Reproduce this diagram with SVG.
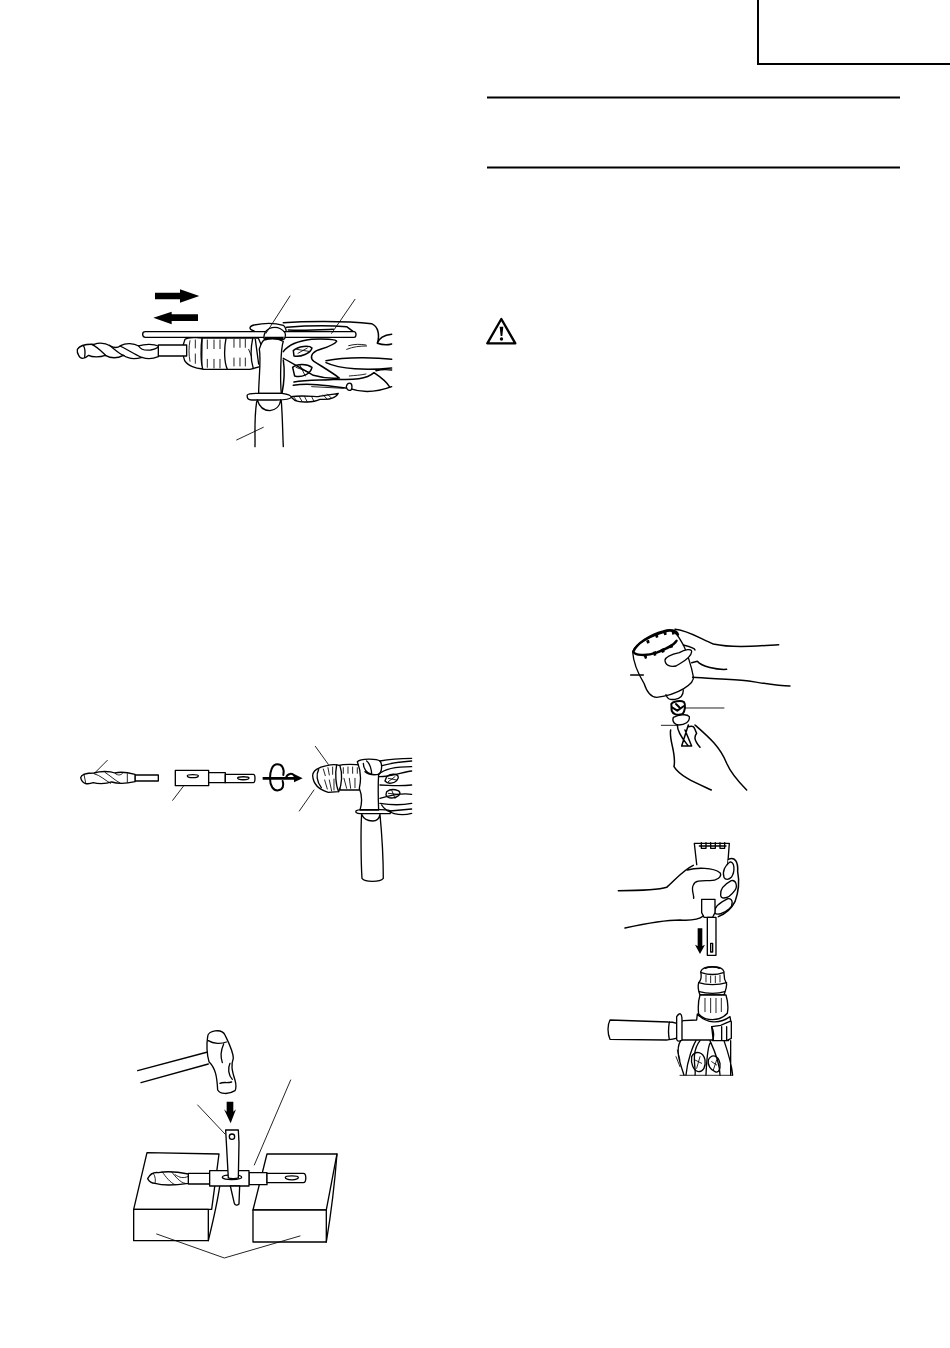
<svg xmlns="http://www.w3.org/2000/svg" width="950" height="1348" viewBox="0 0 950 1348">
<style>
.l{fill:none;stroke:#000;stroke-width:4;stroke-linecap:round;stroke-linejoin:round}
.t{fill:none;stroke:#000;stroke-width:2.600;stroke-linecap:round;stroke-linejoin:round}
.h{fill:none;stroke:#000;stroke-width:4.500;stroke-linecap:round;stroke-linejoin:round}
.w{fill:#fff;stroke:#000;stroke-width:4;stroke-linecap:round;stroke-linejoin:round}
.k{fill:#000;stroke:none}
.r{fill:none;stroke:#000;stroke-width:2}
</style>
<g id="page-frame">
<path class="r" d="M758 0V64H950"/>
<path class="r" d="M487 97.500H900M487 167.500H900"/>
</g>
<g id="warning-icon" transform="translate(480 310) scale(.3333)">
<path d="M64 27L22 100H106Z" fill="#fff" stroke="#000" stroke-width="7" stroke-linejoin="round"/>
<path class="k" d="M59 50H70L67 78H62Z"/><circle class="k" cx="64.500" cy="87" r="5"/>
</g>
<g id="fig-depth-gauge" transform="translate(70 280) scale(.3333)">
<path class="k" d="M255 38H330V28L388 48L330 68V58H255Z"/>
<path class="k" d="M250 113L305 95V103H384V123H305V133Z"/>
<path class="w" d="M396 174H565L580 210L570 260L540 268H400L395 266Z"/>
<path class="w" d="M345 178C355 172 385 172 396 174C392 200 392 245 398 266C380 268 352 256 344 242C337 225 337 195 345 178Z"/>
<path class="l" d="M468 176C462 205 462 245 472 268M548 176C542 205 542 240 550 266M556 178L566 252"/>
<path class="t" d="M360 182C356 200 356 225 360 244M376 180V204M376 222V250M412 180V206M432 180V206M450 180V206M412 238V262M432 238V264M450 238V264M492 178V202M510 178V202M526 178V202M492 234V258M510 234V258M526 234V258M536 208L544 228"/>
<path class="w" d="M265 195H350V228H265Z"/>
<path class="w" d="M22 208C30 195 45 192 72 193C88 187 108 190 122 198C132 204 140 206 152 197C168 188 192 190 206 198C225 191 252 192 265 198V230C250 236 232 238 216 232C196 238 174 236 160 226C145 234 124 236 106 226C90 232 66 232 56 226C44 238 30 238 26 226C22 220 21 214 22 208Z"/>
<path class="l" d="M40 197C46 205 46 218 44 232M66 194C84 202 98 218 108 227M118 196C132 206 148 222 162 227M150 198C166 205 192 222 214 232M206 198C212 208 226 212 242 210C254 208 262 204 265 200"/>
<path class="w" d="M550 152C535 148 538 138 552 135C585 128 620 130 640 136C652 146 652 172 640 178H590Z"/>
<path class="h" d="M640 128C700 124 820 122 905 131C925 140 930 165 922 190C940 196 952 196 965 192M922 190C928 172 945 165 965 163M650 142C700 138 770 136 830 140L850 155M655 150C700 152 740 150 790 148"/>
<path class="w" d="M218 163C218 158 222 155 226 155H852C860 155 860 172 852 172H226C222 172 218 168 218 163Z"/>
<path class="w" d="M586 156C600 138 628 136 645 158C650 170 642 178 640 178H584C580 172 582 164 586 156Z"/>
<path class="k" d="M584 170H642L638 180H584Z"/>
<path class="w" d="M568 207C572 195 576 185 582 180C600 176 625 176 640 184C632 205 630 300 634 340H566C566 300 574 240 568 207Z"/>
<path class="h" d="M640 215C655 195 690 182 725 178C760 176 800 178 800 184C790 198 755 206 740 212C722 222 720 235 732 244C760 262 790 280 808 294C780 296 750 292 730 286C700 270 670 250 640 235"/>
<path class="h" d="M670 212C685 198 718 195 726 204C722 220 692 232 672 228ZM668 262C682 250 712 252 726 262C722 282 696 294 674 288Z"/>
<path class="h" d="M768 242C830 230 920 232 965 238M768 248C810 268 890 272 965 264M918 272C935 268 950 268 965 270"/>
<path class="h" d="M672 306C715 298 760 302 800 298C850 300 890 298 912 278C930 290 950 305 960 322M670 316C720 308 780 318 840 326C880 340 925 335 965 320M640 240C646 280 640 320 636 340"/>
<path class="t" d="M680 208L716 214M684 220L712 204M678 262L716 276M690 256L706 288M836 197C855 192 870 192 888 195M830 208C850 200 870 198 890 198M838 288C855 286 872 286 888 282M725 320L820 325"/>
<path class="w" d="M829 320C832 306 846 306 846 320C846 335 832 335 829 320Z"/>
<path class="w" d="M662 350C700 345 730 350 745 350C760 345 780 345 805 340C800 352 780 360 750 358C730 368 690 368 676 362Z"/>
<path class="t" d="M672 352L680 362M688 350L696 364M704 350L712 366M725 350L732 364M760 345L772 358M772 342L785 355"/>
<path class="w" d="M532 345C535 340 560 340 566 340H636C650 342 664 346 664 352C660 360 640 360 620 360H545C535 360 530 355 532 345Z"/>
<path class="l" d="M562 360C568 380 580 392 600 392C615 390 630 380 632 360M560 365C552 420 556 460 555 500M634 362C638 420 638 460 640 500"/>
<path class="t" d="M588 160L660 48M785 160L855 58M500 480L580 442"/>
</g>
<g id="fig-bit-adapter" transform="translate(70 735) scale(.3333)">
<path class="w" d="M195 120H265V138H195Z"/>
<path class="w" d="M32 128C34 118 45 114 72 114C90 108 120 108 135 114C150 110 172 112 195 118V140C170 146 140 146 125 141C105 148 80 146 70 143C50 150 36 146 32 128Z"/>
<path class="t" d="M42 118L47 144M72 116C90 120 108 138 122 145M105 112C120 122 138 138 150 144M135 115C145 124 155 120 160 112M172 116V142"/>
<path class="t" d="M112 76L76 112M340 154L308 196"/>
<path class="w" d="M316 106H416V152H316Z"/>
<path class="w" d="M416 113H466V143H416Z"/>
<path class="w" d="M466 118H550C553 118 555 121 555 130C555 140 553 143 550 143H466Z"/>
<path class="l" d="M352 122C352 118 385 118 385 122C385 130 352 130 352 122ZM503 129C503 124 537 124 537 129C537 136 503 136 503 129Z"/>
<path class="k" d="M578 126H672V117L698 130L672 142V134H578Z"/>
<path class="l" style="stroke-width:6" d="M640 120C644 100 636 88 622 88C606 88 600 110 600 130C600 152 610 168 625 166C640 164 642 150 638 138M648 128C652 114 668 114 672 122"/>
<path class="t" d="M736 34L775 88M732 165L688 228"/>
<path class="w" d="M806 92C820 86 860 88 872 90L880 130L868 165H810Z"/>
<path class="t" d="M820 98V115M834 96V115M848 96V115M862 98V115M822 130L830 160M838 130L842 160M855 130V158"/>
<path class="w" d="M728 122C728 108 745 96 770 92C785 88 800 88 810 92C818 115 816 150 806 170L775 172C750 165 730 150 728 122Z"/>
<path class="l" d="M746 104C738 118 740 140 754 158M800 90C795 115 797 150 806 170"/>
<path class="t" d="M760 102L766 122M774 98L778 120M788 96V118M764 135L772 162M778 135L785 168M792 132V165"/>
<path class="w" d="M862 80C872 70 920 70 930 78C938 88 936 112 926 118C924 150 925 200 926 225H870C878 200 876 180 868 160C875 130 870 100 862 80Z"/>
<path class="l" d="M890 78C900 85 905 105 905 118C890 115 880 100 880 85M926 118C905 122 895 118 885 110"/>
<path class="l" d="M858 228C862 222 880 224 890 224H930C960 224 968 228 960 236H870C860 236 856 232 858 228Z"/>
<path class="w" d="M875 238C880 250 892 258 908 258C920 258 928 250 930 238C934 280 940 380 940 430C930 442 885 442 876 430C873 380 872 280 875 238Z"/>
<path class="l" d="M930 78C960 72 1000 70 1025 70M936 92C960 85 1000 80 1025 78M926 118C945 100 990 95 1025 95M928 125C965 125 1000 110 1025 108M930 150C955 150 980 155 1025 150M930 190C965 180 1005 175 1025 178M930 205C960 210 1000 210 1025 205M935 210C950 235 990 245 1025 235M960 228L1025 222"/>
<path class="l" d="M950 125C960 115 985 115 985 128C980 145 955 150 945 138ZM950 170C965 158 990 165 990 175C985 190 955 195 948 180Z"/>
<path class="t" d="M955 130L980 135M955 140L975 125M955 175L985 178M965 165L975 190"/>
</g>
<g id="fig-hammer" transform="translate(125 1020) scale(.3333)">
<path class="l" d="M38 152L248 96M48 188L250 132"/>
<path class="w" d="M248 50C248 32 290 24 300 45C312 70 325 95 325 115C318 135 320 150 330 180C334 195 334 205 330 212C310 225 285 222 278 210C276 170 272 145 252 125C245 100 245 70 248 50Z"/>
<path class="l" d="M250 62C265 72 290 72 304 66M296 72C288 90 286 110 292 128M315 130C308 145 310 165 322 178M285 190C295 185 305 190 320 186"/>
<path class="k" d="M305 245H325V275L333 268L317 310L297 268L305 275Z"/>
<path class="t" d="M218 255L300 342M497 180L388 435"/>
<path class="w" d="M66 398L282 402L276 448L260 568H26Z"/>
<path class="w" d="M26 568H250V662H26Z"/>
<path class="w" d="M426 402L636 402L604 570H384Z"/>
<path class="w" d="M384 570H604V666H384Z"/>
<path class="l" d="M636 402C630 480 615 600 604 666M250 662C260 620 275 560 284 500"/>
<path class="t" d="M95 642L298 714L525 648"/>
<path class="w" d="M190 460H254V492H190Z"/>
<path class="w" d="M68 476C74 464 85 456 100 458C130 452 170 458 190 462V490C150 496 110 496 90 490C80 490 72 484 68 476Z"/>
<path class="t" d="M85 460C92 470 92 482 90 490M112 456C122 470 135 488 150 494M140 456C150 468 165 488 180 490M150 464C165 474 175 475 188 470"/>
<path class="w" d="M372 458H426V494H372Z"/>
<path class="w" d="M426 460H535C545 460 545 488 535 488H426Z"/>
<path class="l" d="M481 472C481 466 520 466 520 472C520 482 481 482 481 472Z"/>
<path class="w" d="M254 452H372V498H254Z"/>
<path class="w" d="M292 472C292 462 350 462 350 472C350 480 292 482 292 472Z"/>
<path class="w" d="M316 498L344 498L342 552C336 558 330 556 328 550Z"/>
<path class="w" d="M302 330L340 330L342 368L340 474C330 478 315 476 310 474Z"/>
<circle class="l" cx="321" cy="350" r="8"/>
</g>
<g id="fig-core-bit-hands" transform="translate(620 620) scale(.3333)">
<path class="w" d="M38 95C45 70 100 45 150 32C170 35 178 55 190 75C200 95 215 140 220 170C225 190 175 225 110 232C90 232 80 215 72 190C60 170 40 130 38 95Z"/>
<path class="h" d="M165 28C200 30 240 55 280 72C340 85 410 78 476 74M190 75C210 80 225 85 225 90M215 128L232 124C245 140 290 150 320 148M218 172C255 175 330 178 380 182C420 188 470 198 510 198M32 165H70"/>
<path class="w" d="M135 120C138 108 160 102 178 98C195 88 215 85 215 95C214 115 180 130 168 138C150 142 135 135 135 120Z"/>
<path d="M40 95C45 105 75 110 110 98C135 88 160 78 170 62M40 95C50 70 90 45 130 34C150 28 170 30 174 44" fill="none" stroke="#000" stroke-width="7" stroke-linecap="round"/>
<path class="k" d="M70 104l10-2 1 13-6 2zM98 96l10-3 1 13-7 2zM122 88l10-4 2 12-8 3zM148 76l10-4 1 10-8 3zM78 62l9-3 2 9-7 3zM105 46l9-3 1 9-7 2zM130 38l9-2 1 8-7 2zM155 35l8 0 1 8-7 1z"/>
<path class="l" d="M138 224C142 238 150 240 165 238C180 236 190 226 190 210"/>
<path class="w" d="M154 252C158 244 182 240 192 246C198 255 195 272 188 282C172 288 158 282 155 272Z" style="stroke-width:6"/>
<path class="l" style="stroke-width:6" d="M156 262L172 272L192 258M168 252L178 262"/>
<path class="t" d="M195 264H312M124 316H170"/>
<path class="w" d="M160 292C175 285 200 280 208 290C210 305 195 315 176 315C165 315 155 305 160 292Z"/>
<path class="h" d="M172 315C172 340 195 365 205 378M205 315L185 378H215L195 330M205 320C225 315 222 325 230 340C222 350 222 360 240 382M152 330C146 360 170 400 162 440C180 470 230 490 274 510M225 315C265 350 300 380 320 430C335 465 360 490 380 510"/>
</g>
<g id="fig-core-bit-insert" transform="translate(600 830) scale(.3333)">
<path class="w" d="M283 40H388L382 120H292Z"/>
<path class="l" d="M304 38V55H318V38M332 38V55H346V38M360 38V55H374V38M298 48H378"/>
<path class="w" d="M385 88C405 80 415 95 413 125C418 150 416 185 405 215C395 235 375 252 350 260L305 250V205C290 200 278 170 280 160C270 140 270 120 280 106H385Z" style="stroke:none"/>
<path class="h" d="M55 182C100 182 170 182 200 172C230 145 250 120 280 106"/>
<path class="h" d="M385 88C405 80 415 95 413 125C418 150 416 185 405 215C395 235 375 252 355 260"/>
<path class="w" d="M262 120C290 112 340 112 360 128C368 140 350 152 330 152C305 152 285 150 280 165C272 178 283 195 281 205"/>
<path class="l" d="M372 142C366 125 376 104 390 96C404 94 406 125 394 142C386 150 376 150 372 142ZM362 195C360 178 375 162 394 152C408 148 414 170 404 182C394 196 380 204 372 204C366 204 362 200 362 195ZM344 248C342 230 362 216 384 206C400 204 400 226 388 236C372 250 350 258 344 248Z"/>
<path class="w" d="M305 208H345V248L338 262H312L305 248Z"/>
<path class="w" d="M322 262H348V376H322Z"/>
<path class="l" d="M332 340V366H338V340Z"/>
<path class="h" d="M75 294C130 282 200 270 240 270C270 272 295 270 310 258"/>
<path class="k" d="M293 295H307V348L315 344L300 372L285 344L293 348Z"/>
<path class="w" d="M302 425C310 405 365 405 372 425C372 435 370 445 380 462C380 475 375 485 372 495H300C296 485 292 472 296 458C305 450 305 438 302 425Z"/>
<path class="l" d="M316 415C325 410 350 410 358 415M304 428C325 435 350 435 370 428M296 458C320 466 355 466 380 458M298 485C320 492 355 492 374 485"/>
<path class="t" d="M318 436V456M332 438V458M346 438V458M360 436V456"/>
<path class="w" d="M300 495H378C384 515 384 540 382 550C360 575 315 575 296 552C294 535 294 515 300 495Z"/>
<path class="t" d="M315 505V545M332 505V548M348 505V548M364 505V545"/>
<path class="w" d="M292 552C320 582 360 582 390 560C395 580 392 620 385 632L362 630H245C240 600 235 575 250 572L290 570Z"/>
<path class="w" d="M30 570L205 576C222 576 235 580 240 590V618C230 628 215 628 200 630L30 628C22 610 22 585 30 570Z"/>
<path class="l" d="M208 576C205 595 205 615 208 628"/>
<path class="w" d="M230 560C240 545 246 550 246 570V630C240 635 232 635 230 628Z"/>
<path class="w" d="M335 590L362 586C380 580 392 570 394 575V625L380 632H340Z"/>
<path class="l" d="M365 590V630M380 590V630M335 590C342 605 342 620 338 632"/>
<path class="l" d="M242 632C225 660 240 700 252 735M258 735C262 690 280 645 288 632M300 632C270 670 290 720 285 735M330 632C345 665 360 700 360 735M372 632C385 670 395 700 398 735M392 632V735M318 735C320 690 325 650 330 640"/>
<path class="l" d="M275 680C285 660 310 665 315 690C318 710 310 725 295 725C280 722 272 700 275 680ZM325 690C335 670 355 675 360 700C362 720 355 730 345 725C332 720 322 705 325 690Z"/>
<path class="t" d="M232 660L240 690M228 680L240 710M285 690L305 700M290 715L300 680M335 695L350 705M340 720L350 690M240 736H398"/>
</g>
</svg>
